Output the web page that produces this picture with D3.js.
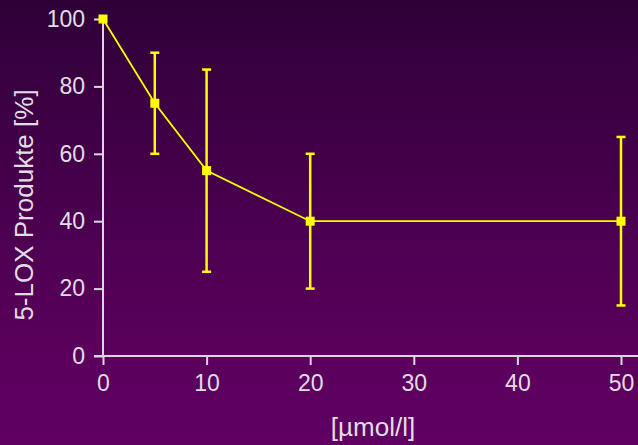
<html>
<head>
<script src="https://cdn.jsdelivr.net/npm/d3@7"></script>
<style>
  body { margin: 0; }
  text { font-family: "Liberation Sans", Arial, sans-serif; fill: #e2dde4; }
</style>
</head>
<body>
<svg id="chart" width="638" height="445"></svg>
<script>
var conc = [0, 5, 10, 20, 50];
var produkte = [100, 75, 55, 40, 40];
var errLow = [100, 60, 25, 20, 15];
var errHigh = [100, 90, 85, 60, 65];
var xTicks = [0, 10, 20, 30, 40, 50];
var yTicks = [0, 20, 40, 60, 80, 100];

var W = 638, H = 445;
var svg = d3.select("#chart");

var defs = svg.append("defs");
var grad = defs.append("linearGradient").attr("id", "bg")
  .attr("x1", 0).attr("y1", 0).attr("x2", 0).attr("y2", 1);
grad.append("stop").attr("offset", "0%").attr("stop-color", "#2f0038");
grad.append("stop").attr("offset", "80%").attr("stop-color", "#5b005d");
grad.append("stop").attr("offset", "100%").attr("stop-color", "#5f0062");
svg.append("rect").attr("width", W).attr("height", H).attr("fill", "url(#bg)");

var x = d3.scaleLinear().domain([0, 50]).range([103, 621]);
var y = d3.scaleLinear().domain([0, 100]).range([356, 19]);

// y axis
var yAxis = svg.append("g").attr("transform", "translate(103,0)")
  .call(d3.axisLeft(y).tickValues(yTicks).tickSize(9).tickPadding(9));
yAxis.select(".domain").attr("d", "M0," + y(0) + "V" + y(100));
// x axis
var xAxis = svg.append("g").attr("transform", "translate(0,356)")
  .call(d3.axisBottom(x).tickValues(xTicks).tickSize(9).tickPadding(10));
xAxis.select(".domain").attr("d", "M94,0H638");

svg.selectAll(".domain, .tick line").attr("stroke", "#dcd6de").attr("stroke-width", 2);
svg.selectAll(".tick text").attr("font-size", 23).attr("fill", "#e2dde4");

// error bars
var eb = svg.append("g").attr("stroke", "#ffff00").attr("stroke-width", 2.5);
conc.forEach(function (c, i) {
  if (errLow[i] === errHigh[i]) return;
  var cx = x(c);
  eb.append("line").attr("x1", cx).attr("x2", cx).attr("y1", y(errLow[i])).attr("y2", y(errHigh[i]));
  eb.append("line").attr("x1", cx - 4.5).attr("x2", cx + 4.5).attr("y1", y(errLow[i])).attr("y2", y(errLow[i]));
  eb.append("line").attr("x1", cx - 4.5).attr("x2", cx + 4.5).attr("y1", y(errHigh[i])).attr("y2", y(errHigh[i]));
});

// line
var pts = conc.map(function (c, i) { return [c, produkte[i]]; });
svg.append("path").datum(pts)
  .attr("fill", "none").attr("stroke", "#ffff00").attr("stroke-width", 1.8)
  .attr("d", d3.line().x(function (d) { return x(d[0]); }).y(function (d) { return y(d[1]); }));

svg.selectAll("rect.pt").data(pts).enter().append("rect")
  .attr("class", "pt")
  .attr("x", function (d) { return x(d[0]) - 4.5; })
  .attr("y", function (d) { return y(d[1]) - 4.5; })
  .attr("width", 9).attr("height", 9)
  .attr("fill", "#ffff00");

// axis titles
svg.append("text").attr("x", 373).attr("y", 436)
  .attr("text-anchor", "middle").attr("font-size", 26).text("[µmol/l]");
svg.append("text").attr("transform", "translate(33,205) rotate(-90)")
  .attr("text-anchor", "middle").attr("font-size", 26).text("5-LOX Produkte [%]");
</script>
</body>
</html>
